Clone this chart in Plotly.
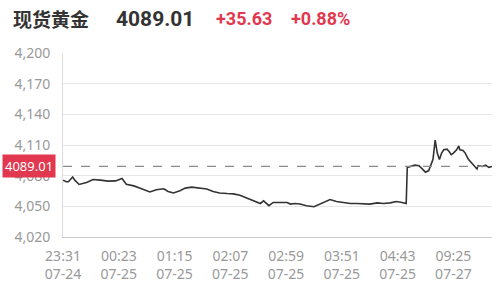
import plotly.graph_objects as go

# minute index (one point per trading minute) and price
idx = [0, 3, 5, 9, 11, 15, 22, 28, 35, 42, 49, 55, 59, 66, 72, 78, 81, 87, 94, 98,
       103, 109, 114, 120, 126, 134, 140, 146, 153, 159, 165, 171, 178, 184, 187, 192,
       196, 202, 209, 212, 216, 221, 227, 234, 240, 246, 249, 255, 262, 268, 274, 280,
       286, 293, 299, 305, 311, 316, 320, 321, 325, 328, 332, 335, 338, 341, 343, 345,
       347, 349, 351, 353, 355, 358, 360, 362, 364, 367, 369, 370, 373, 375, 378, 381,
       384, 386, 387, 391, 394, 397, 400]
price = [4075.6, 4074.0, 4074.0, 4078.7, 4075.6, 4071.4, 4073.4, 4076.3, 4075.6, 4074.7,
         4074.9, 4077.2, 4071.6, 4070.0, 4067.8, 4065.3, 4064.1, 4066.2, 4067.2, 4064.6,
         4063.1, 4065.3, 4067.8, 4068.8, 4067.8, 4066.9, 4064.6, 4063.1, 4062.5, 4062.2,
         4060.9, 4058.4, 4055.3, 4052.8, 4055.3, 4050.6, 4053.8, 4053.8, 4053.8, 4052.2,
         4052.8, 4052.2, 4050.6, 4049.6, 4052.2, 4054.7, 4056.6, 4054.7, 4053.4, 4052.8,
         4052.8, 4052.2, 4052.2, 4053.4, 4052.8, 4053.4, 4054.7, 4053.8, 4052.8, 4088.1,
         4089.0, 4090.3, 4089.7, 4086.6, 4083.4, 4085.0, 4091.3, 4095.9, 4114.7, 4102.1,
         4095.9, 4102.1, 4105.3, 4105.9, 4103.7, 4100.6, 4102.1, 4105.3, 4109.1, 4105.3,
         4104.7, 4102.1, 4095.9, 4092.8, 4089.7, 4086.6, 4089.7, 4089.0, 4090.3, 4088.1,
         4089.01]

tick_pos = [0, 52, 104, 156, 208, 260, 312, 364]
tick_text = ["23:31<br>07-24", "00:23<br>07-25", "01:15<br>07-25", "02:07<br>07-25",
             "02:59<br>07-25", "03:51<br>07-25", "04:43<br>07-25", "09:25<br>07-27"]
y_ticks = [4020, 4050, 4080, 4110, 4140, 4170, 4200]

name = "现货黄金"
last_price = 4089.01
change = "+35.63"
change_pct = "+0.88%"

RED = "#e2384f"
GRAY = "#999999"

fig = go.Figure()
fig.add_trace(go.Scatter(x=idx, y=price, mode="lines",
                         line=dict(color="#333333", width=1.6), hoverinfo="skip"))

fig.add_shape(type="line", xref="paper", x0=0, x1=1, yref="y", y0=last_price, y1=last_price,
              line=dict(color="#8a8a8a", width=1.2, dash="dash"))

fig.add_annotation(xref="paper", x=0, xanchor="right", xshift=-7, yref="y", y=last_price,
                   text=f"{last_price:.2f}", showarrow=False, bgcolor=RED,
                   font=dict(color="white", size=13, family="Noto Sans"), borderpad=2)

title_y = 1.185
fig.add_annotation(xref="paper", yref="paper", x=(11 - 63) / 429, y=title_y, xanchor="left",
                   yanchor="middle", text=f"<b>{name}</b>", showarrow=False,
                   font=dict(size=19, color="#333333", family="Noto Sans CJK SC"))
fig.add_annotation(xref="paper", yref="paper", x=(114 - 63) / 429, y=title_y, xanchor="left",
                   yanchor="middle", text=f"<b>{last_price:.2f}</b>", showarrow=False,
                   font=dict(size=21, color="#333333", family="Roboto"))
fig.add_annotation(xref="paper", yref="paper", x=(214 - 63) / 429, y=title_y, xanchor="left",
                   yanchor="middle", text=f"<b>{change}</b>", showarrow=False,
                   font=dict(size=18, color=RED, family="Roboto"))
fig.add_annotation(xref="paper", yref="paper", x=(289 - 63) / 429, y=title_y, xanchor="left",
                   yanchor="middle", text=f"<b>{change_pct}</b>", showarrow=False,
                   font=dict(size=18, color=RED, family="Roboto"))

fig.update_layout(
    width=500, height=291,
    margin=dict(l=63, r=8, t=53, b=47),
    paper_bgcolor="white", plot_bgcolor="white",
    showlegend=False,
    font=dict(family="Noto Sans", color=GRAY, size=14),
    xaxis=dict(range=[0, 400], tickvals=tick_pos, ticktext=tick_text, showgrid=False,
               showline=True, linecolor="#cccccc", linewidth=1, zeroline=False,
               ticks="", ticklabelstandoff=6, tickfont=dict(size=14, color=GRAY)),
    yaxis=dict(range=[4020, 4200], tickvals=y_ticks, tickformat=",d", showgrid=True,
               gridcolor="#e6e6e6", gridwidth=1, showline=True, linecolor="#dddddd",
               zeroline=False, ticks="", ticklabelstandoff=9,
               tickfont=dict(size=14, color=GRAY)),
)

fig.write_html("out.html")
